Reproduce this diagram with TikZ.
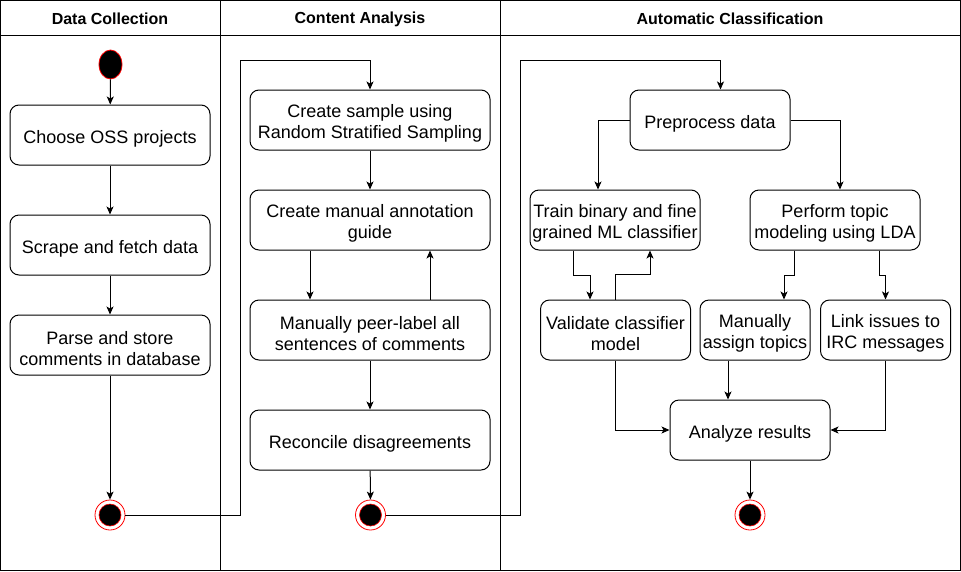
\documentclass[tikz,border=0pt]{standalone}
\usepackage{fontspec}
\setmainfont{Liberation Sans}
\usetikzlibrary{arrows.meta,shapes.geometric}
\tikzset{
  act/.style={draw, rounded corners=9pt, line width=1pt, inner sep=0pt, minimum height=60pt},
  txt/.style={align=center, inner sep=0pt, font=\fontsize{18}{21.6}\selectfont},
  arr/.style={line width=1pt, -{Stealth[length=8pt,width=7pt,inset=2pt]}},
  ln/.style={line width=1pt},
  hdr/.style={font=\bfseries\fontsize{16}{19}\selectfont},
  startnode/.style={draw=red, fill=black, ellipse, minimum width=23pt, minimum height=29pt, inner sep=0pt, line width=0.8pt},
  finalnode/.style={draw=red, fill=white, circle, minimum size=30pt, inner sep=0pt, line width=0.8pt}
}
\newcommand\actbox[4]{%
  \node[act, minimum width=#2] (#1) at #3 {};
  \node[txt] (#1-t) at ([yshift=-3.5pt]#1.center) {#4};}
\newcommand\finalmark[2]{%
  \node[finalnode] (#1) at #2 {};
  \fill[black] (#1) circle (11);
  \draw[red, line width=0.6pt] (#1) circle (11);}
\begin{document}
\begin{tikzpicture}[x=1pt,y=-1pt]
\useasboundingbox (0,0) rectangle (961,571);
% frame
\draw[ln] (0.5,0.5) rectangle (960,570);
\draw[ln] (0.5,35) -- (960,35);
\draw[ln] (220.5,0.5) -- (220.5,570);
\draw[ln] (500.5,0.5) -- (500.5,570);
\node[hdr] (h1) at (110,19) {Data Collection};
\node[hdr] (h2) at (360,19) {Content Analysis};
\node[hdr] (h3) at (730,19) {Automatic Classification};

% Data collection
\node[startnode] (start) at (110.5,64.5) {};
\actbox{choose}{200pt}{(110,135)}{Choose OSS projects}
\actbox{scrape}{200pt}{(110,245)}{Scrape and fetch data}
\actbox{parse}{200pt}{(110,345)}{Parse and store\\comments in database}
\finalmark{end1}{(110,515)}

% Content analysis
\actbox{sample}{240pt}{(370,120)}{Create sample using\\Random Stratified Sampling}
\actbox{guide}{240pt}{(370,220)}{Create manual annotation\\guide}
\actbox{peer}{240pt}{(370,330)}{Manually peer-label all\\sentences of comments}
\actbox{reconcile}{240pt}{(370,440)}{Reconcile disagreements}
\finalmark{end2}{(370.5,515)}

% Automatic classification
\actbox{preproc}{160pt}{(710,120)}{Preprocess data}
\actbox{train}{170pt}{(615,220)}{Train binary and fine\\grained ML classifier}
\actbox{topic}{170pt}{(835,220)}{Perform topic\\modeling using LDA}
\actbox{validate}{150pt}{(615.5,330)}{Validate classifier\\model}
\actbox{assign}{110pt}{(755,330)}{Manually\\assign topics}
\actbox{link}{130pt}{(885.5,330)}{Link issues to\\IRC messages}
\actbox{analyze}{160pt}{(750,430)}{Analyze results}
\finalmark{end3}{(750,515)}

% connectors: data collection
\draw[arr] (start) -- (choose);
\draw[arr] (choose) -- (scrape);
\draw[arr] (scrape) -- (parse);
\draw[arr] (parse) -- (end1);
\draw[arr] (end1) -- (240.5,515) -- (240.5,60.5) -| (sample.north);

% content analysis
\draw[arr] (sample) -- (guide);
\draw[arr] ([xshift=-60pt]guide.south) -- ([xshift=-60pt]peer.north);
\draw[arr] ([xshift=60pt]peer.north) -- ([xshift=60pt]guide.south);
\draw[arr] (peer) -- (reconcile);
\draw[arr] (reconcile) -- (end2);
\draw[arr] (end2) -- (520.5,515) -- (520.5,60.5) -| ([xshift=10.5pt]preproc.north);

% automatic classification
\draw[arr] (preproc.west) -| ([xshift=-17pt]train.north);
\draw[arr] (preproc.east) -| ([xshift=5pt]topic.north);
\draw[arr] ([xshift=-42pt]train.south) -- ++(0,25) -| ([xshift=-25.5pt]validate.north);
\draw[arr] (validate.north) -- ++(0,-25) -| ([xshift=35pt]train.south);
\draw[arr] ([xshift=-41pt]topic.south) -- ++(0,25) -| ([xshift=29pt]assign.north);
\draw[arr] ([xshift=44pt]topic.south) -- ++(0,25) -| (link.north);
\draw[arr] (validate.south) |- (analyze.west);
\draw[arr] ([xshift=-27pt]assign.south) -- ([xshift=-22pt]analyze.north);
\draw[arr] (link.south) |- (analyze.east);
\draw[arr] (analyze) -- (end3);
\end{tikzpicture}
\end{document}
